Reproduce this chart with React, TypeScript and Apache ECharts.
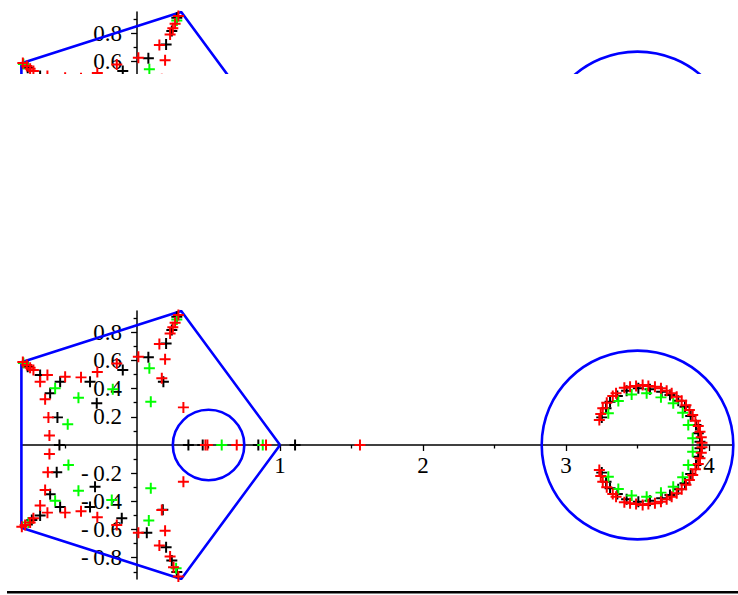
import React, { useEffect, useRef } from "react";
import * as echarts from "echarts";

const xRange = [-0.809, 4.17];
const yRange = [-0.951, 0.951];
const xMajorTicks = [1, 2, 3, 4];
const xMinorTicks = [-0.5, 0.5, 1.5, 2.5, 3.5];
const yMajorTicks = [-0.8, -0.6, -0.4, -0.2, 0.2, 0.4, 0.6, 0.8];
const yMinorTicks = [-0.9, -0.7, -0.5, -0.3, -0.1, 0.1, 0.3, 0.5, 0.7, 0.9];
// labels left visible in the clipped copy at the top of the page
const yTopCopyLabels = [0.6, 0.8];

const pentagon: [number, number][] = [
  [1, 0], [0.309, 0.951], [-0.809, 0.588], [-0.809, -0.588], [0.309, -0.951], [1, 0],
];
// [centre x, centre y, radius]
const circles: [number, number, number][] = [
  [0.5, 0, 0.25],
  [3.5, 0, 0.67],
];

const blackPts: [number, number][] = [
  [-0.765, 0.555], [-0.678, 0.496], [-0.608, 0.367], [-0.538, 0.449], [-0.557, 0.196],
  [-0.329, 0.449], [-0.282, 0.296], [-0.1, 0.532], [0.079, 0.622], [0.203, 0.721],
  [0.243, 0.816], [0.278, 0.91], [0.184, 0.449],
  [-0.736, -0.532], [-0.678, -0.5], [-0.608, -0.35], [-0.538, -0.44], [-0.562, -0.194],
  [-0.329, -0.44], [-0.294, -0.296], [-0.107, -0.52], [0.068, -0.622], [0.203, -0.725],
  [0.243, -0.819], [0.278, -0.902], [0.18, -0.46],
  [-0.543, 0], [0.359, 0], [0.459, 0], [0.848, 0], [1.105, 0],
  [3.25, 0.196], [3.28, 0.26], [3.308, 0.307], [3.359, 0.348], [3.424, 0.385],
  [3.506, 0.402], [3.587, 0.395], [3.669, 0.378], [3.727, 0.355], [3.785, 0.314],
  [3.832, 0.272], [3.872, 0.206], [3.909, 0.142], [3.925, 0.083], [3.937, 0.023],
  [3.25, -0.196], [3.28, -0.26], [3.308, -0.307], [3.359, -0.348], [3.424, -0.385],
  [3.506, -0.402], [3.587, -0.395], [3.669, -0.378], [3.727, -0.355], [3.785, -0.314],
  [3.832, -0.272], [3.872, -0.206], [3.909, -0.142], [3.925, -0.083], [3.937, -0.023],
];

const greenPts: [number, number][] = [
  [-0.795, 0.582], [-0.573, 0.402], [-0.41, 0.336], [-0.485, 0.147], [-0.17, 0.395],
  [0.086, 0.544], [0.096, 0.307], [0.278, 0.891],
  [-0.76, -0.55], [-0.573, -0.395], [-0.41, -0.324], [-0.48, -0.142], [-0.177, -0.39],
  [0.082, -0.536], [0.096, -0.307], [0.273, -0.874],
  [0.592, 0], [0.879, 0],
  [3.296, 0.225], [3.366, 0.312], [3.459, 0.359], [3.564, 0.367], [3.664, 0.338],
  [3.75, 0.296], [3.816, 0.229], [3.855, 0.142], [3.886, 0.048],
  [3.296, -0.225], [3.366, -0.312], [3.459, -0.359], [3.564, -0.367], [3.664, -0.338],
  [3.75, -0.296], [3.816, -0.229], [3.855, -0.142], [3.886, -0.048],
];

const redPts: [number, number][] = [
  [-0.799, 0.589], [-0.771, 0.567], [-0.748, 0.548], [-0.725, 0.532], [-0.678, 0.449],
  [-0.627, 0.496], [-0.643, 0.324], [-0.62, 0.196], [-0.613, 0.068], [-0.503, 0.484],
  [-0.392, 0.48], [-0.278, 0.518], [-0.142, 0.579], [0.009, 0.626], [0.156, 0.716],
  [0.196, 0.608], [0.231, 0.792], [0.25, 0.835], [0.266, 0.867], [0.289, 0.922],
  [0.173, 0.473], [0.324, 0.267],
  [-0.806, -0.58], [-0.783, -0.567], [-0.748, -0.55], [-0.725, -0.52], [-0.678, -0.43],
  [-0.627, -0.48], [-0.643, -0.319], [-0.624, -0.194], [-0.613, -0.064], [-0.503, -0.48],
  [-0.392, -0.47], [-0.278, -0.513], [-0.142, -0.567], [0.009, -0.622], [0.156, -0.713],
  [0.196, -0.608], [0.231, -0.791], [0.255, -0.867], [0.289, -0.933], [0.173, -0.461],
  [0.324, -0.26],
  [0.478, 0], [0.492, 0], [0.697, 0], [0.902, 0], [1.559, 0],
  [3.233, 0.177], [3.243, 0.22], [3.257, 0.26], [3.285, 0.3], [3.327, 0.348],
  [3.35, 0.367], [3.408, 0.407], [3.448, 0.414], [3.49, 0.418], [3.536, 0.426],
  [3.576, 0.418], [3.622, 0.414], [3.664, 0.402], [3.704, 0.385], [3.739, 0.367],
  [3.774, 0.343], [3.809, 0.314], [3.839, 0.282], [3.863, 0.248], [3.886, 0.213],
  [3.905, 0.172], [3.925, 0.135], [3.937, 0.094], [3.946, 0.055], [3.951, 0.016],
  [3.233, -0.177], [3.243, -0.22], [3.257, -0.26], [3.285, -0.3], [3.327, -0.348],
  [3.35, -0.367], [3.408, -0.407], [3.448, -0.414], [3.49, -0.418], [3.536, -0.426],
  [3.576, -0.418], [3.622, -0.414], [3.664, -0.402], [3.704, -0.385], [3.739, -0.367],
  [3.774, -0.343], [3.809, -0.314], [3.839, -0.282], [3.863, -0.248], [3.886, -0.213],
  [3.905, -0.172], [3.925, -0.135], [3.937, -0.094], [3.946, -0.055], [3.951, -0.016],
];

const SERIF = "'Liberation Serif', 'Times New Roman', serif";
const PLUS = "path://M4.1,0H5.9V4.1H10V5.9H5.9V10H4.1V5.9H0V4.1H4.1Z";

// grid layout (pixels)
const G_LEFT = 21.4;
const G_RIGHT = 4.7;
const G_TOP = 311;
const G_BOTTOM = 16;
const CW = 738;
const CH = 595;

function fmtY(v: number): string {
  const s = Math.abs(v).toFixed(1);
  return v < 0 ? "-\u2009" + s : s;
}

function buildOption(isMain: boolean): any {
  const gw = CW - G_LEFT - G_RIGHT;
  const gh = CH - G_TOP - G_BOTTOM;
  // place the axes on the zero lines through offsets
  const yAxisOffset = -((0 - xRange[0]) / (xRange[1] - xRange[0])) * gw;
  const xAxisOffset = -((0 - yRange[0]) / (yRange[1] - yRange[0])) * gh;

  const axisLineStyle = { color: "#000", width: 1.5 };
  const tickStyle = { color: "#000", width: 1.3 };
  const scatter = (data: [number, number][], color: string) => ({
    type: "scatter",
    xAxisIndex: 0,
    yAxisIndex: 0,
    data,
    symbol: PLUS,
    symbolSize: 11,
    itemStyle: { color, opacity: 1 },
    z: 5,
    silent: true,
  });
  return {
    animation: false,
    grid: {
      left: G_LEFT,
      right: G_RIGHT,
      top: G_TOP,
      bottom: G_BOTTOM,
      containLabel: false,
      outerBoundsMode: "none",
    },
    xAxis: [
      {
        type: "value",
        min: xRange[0],
        max: xRange[1],
        position: "bottom",
        offset: xAxisOffset,
        axisLine: { show: true, onZero: false, lineStyle: axisLineStyle },
        splitLine: { show: false },
        axisTick: { show: true, customValues: xMajorTicks, length: 6, lineStyle: tickStyle },
        axisLabel: {
          show: isMain,
          customValues: xMajorTicks,
          fontFamily: SERIF,
          fontSize: 23,
          color: "#000",
          margin: 9,
        },
      },
      {
        type: "value",
        min: xRange[0],
        max: xRange[1],
        position: "bottom",
        offset: xAxisOffset,
        axisLine: { show: false, onZero: false },
        splitLine: { show: false },
        axisTick: { show: true, customValues: xMinorTicks, length: 3.5, lineStyle: tickStyle },
        axisLabel: { show: false },
      },
    ],
    yAxis: [
      {
        type: "value",
        min: yRange[0],
        max: yRange[1],
        position: "left",
        offset: yAxisOffset,
        axisLine: { show: true, onZero: false, lineStyle: axisLineStyle },
        splitLine: { show: false },
        axisTick: { show: true, customValues: yMajorTicks, length: 6, lineStyle: tickStyle },
        axisLabel: {
          show: true,
          customValues: isMain ? yMajorTicks : yTopCopyLabels,
          formatter: fmtY,
          fontFamily: SERIF,
          fontSize: 23,
          color: "#000",
          margin: 15,
        },
      },
      {
        type: "value",
        min: yRange[0],
        max: yRange[1],
        position: "left",
        offset: yAxisOffset,
        axisLine: { show: false, onZero: false },
        splitLine: { show: false },
        axisTick: { show: true, customValues: yMinorTicks, length: 3.5, lineStyle: tickStyle },
        axisLabel: { show: false },
      },
    ],
    graphic: isMain
      ? [
          {
            type: "rect",
            shape: { x: 7, y: 591, width: 731, height: 2.4 },
            style: { fill: "#000" },
            silent: true,
          },
        ]
      : [],
    series: [
      {
        type: "line",
        xAxisIndex: 0,
        yAxisIndex: 0,
        data: pentagon,
        showSymbol: false,
        symbol: "none",
        lineStyle: { color: "#0000ff", width: 2.6 },
        z: 3,
        silent: true,
      },
      {
        type: "custom",
        xAxisIndex: 0,
        yAxisIndex: 0,
        data: circles,
        encode: { x: 0, y: 1 },
        z: 3,
        silent: true,
        renderItem: (_params: any, api: any) => {
          const c = api.coord([api.value(0), api.value(1)]);
          const s = api.size([api.value(2), api.value(2)]);
          return {
            type: "ellipse",
            shape: { cx: c[0], cy: c[1], rx: s[0], ry: s[1] },
            style: { fill: "none", stroke: "#0000ff", lineWidth: 2.6 },
          };
        },
      },
      scatter(blackPts, "#000000"),
      scatter(greenPts, "#00ff00"),
      scatter(redPts, "#ff0000"),
    ],
  };
}

export default function App() {
  const mainRef = useRef<HTMLDivElement>(null);
  const topRef = useRef<HTMLDivElement>(null);

  useEffect(() => {
    if (!mainRef.current || !topRef.current) return;
    const main = echarts.init(mainRef.current, undefined, { renderer: "svg" });
    main.setOption(buildOption(true));
    const top = echarts.init(topRef.current, undefined, { renderer: "svg" });
    top.setOption(buildOption(false));
    return () => {
      main.dispose();
      top.dispose();
    };
  }, []);

  return (
    <div style={{ position: "absolute", left: 0, top: 0, width: CW, height: CH, background: "#fff" }}>
      <div ref={mainRef} style={{ position: "absolute", left: 0, top: 0, width: CW, height: CH }} />
      <div
        style={{
          position: "absolute",
          left: 0,
          top: 0,
          width: CW,
          height: 74,
          overflow: "hidden",
        }}
      >
        <div ref={topRef} style={{ position: "absolute", left: 0, top: -299, width: CW, height: CH }} />
      </div>
    </div>
  );
}
